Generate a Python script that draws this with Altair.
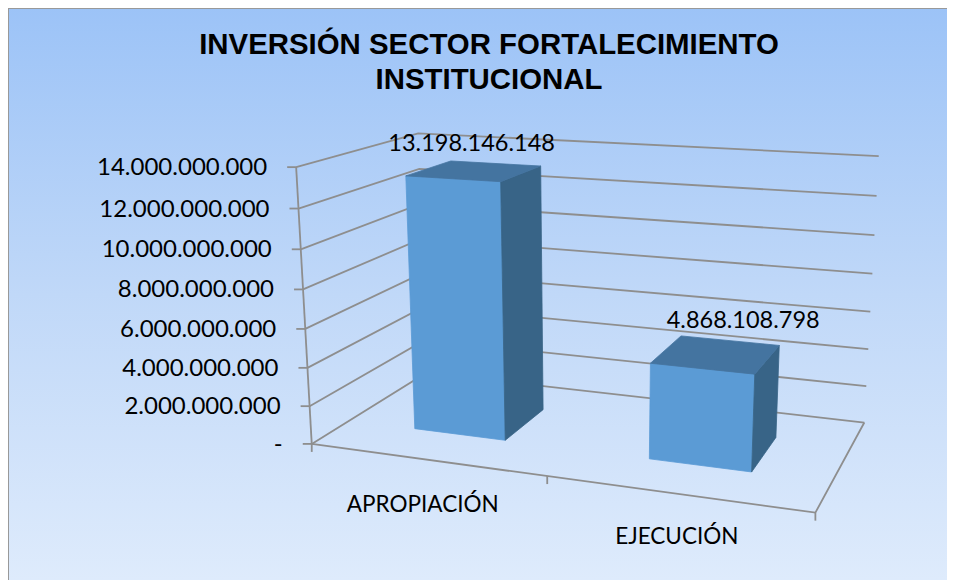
import altair as alt
import numpy as np
import pandas as pd

# ---- chart values -------------------------------------------------------
categories = ["APROPIACIÓN", "EJECUCIÓN"]
values = [13198146148, 4868108798]
value_labels = ["13.198.146.148", "4.868.108.798"]
tick_values = [0, 2e9, 4e9, 6e9, 8e9, 10e9, 12e9, 14e9]
tick_labels = ["-", "2.000.000.000", "4.000.000.000", "6.000.000.000",
               "8.000.000.000", "10.000.000.000", "12.000.000.000", "14.000.000.000"]
title_lines = ["INVERSIÓN SECTOR FORTALECIMIENTO", "INSTITUCIONAL"]

# ---- 3D camera, calibrated from the scene box (u=category, d=depth, v=value/max)
V_MAX = 14e9
_cal = [
    (0, 0, 0, 311, 444), (0, 0, 1, 297, 167), (1, 0, 0, 815, 513),
    (0, 1, 0, 428, 372), (0, 1, 1, 417, 133), (1, 1, 0, 864, 423), (1, 1, 1, 879, 156),
    (.15, .3, 0, 414, 430), (.35, .3, 0, 505, 440), (.35, .7, 0, 542, 410),
    (.15, .3, .943, 406, 176), (.35, .3, .943, 501, 182), (.15, .7, .943, 451, 161), (.35, .7, .943, 540, 166),
    (.65, .3, 0, 650, 458), (.85, .3, 0, 752, 471), (.85, .7, 0, 776, 438),
    (.65, .3, .348, 651, 363), (.85, .3, .348, 755, 373), (.65, .7, .348, 681, 336), (.85, .7, .348, 779, 346),
]
_A, _b = [], []
for u, d, v, x, y in _cal:
    _A.append([u, d, v, 1, 0, 0, 0, 0, -x * u, -x * d, -x * v]); _b.append(x)
    _A.append([0, 0, 0, 0, u, d, v, 1, -y * u, -y * d, -y * v]); _b.append(y)
_m = np.linalg.lstsq(np.array(_A, float), np.array(_b, float), rcond=None)[0]


def project(u, d, value):
    v = value / V_MAX
    w = _m[8] * u + _m[9] * d + _m[10] * v + 1
    return ((_m[0] * u + _m[1] * d + _m[2] * v + _m[3]) / w,
            (_m[4] * u + _m[5] * d + _m[6] * v + _m[7]) / w)


# ---- scene tables -------------------------------------------------------
lines, faces = [], []


def add_line(name, pts):
    for i, (x, y) in enumerate(pts):
        lines.append({"id": name, "i": i, "x": x, "y": y})


for tv in tick_values:
    add_line(f"grid{tv}", [project(0, 0, tv), project(0, 1, tv), project(1, 1, tv)])
    x0, y0 = project(0, 0, tv)
    add_line(f"tick{tv}", [(x0 - 9, y0), (x0, y0)])
add_line("axis", [project(0, 0, 0), project(0, 0, V_MAX)])
add_line("floor", [project(0, 0, 0), project(1, 0, 0), project(1, 1, 0)])
for u in (0, .5, 1):
    x0, y0 = project(u, 0, 0)
    add_line(f"xtick{u}", [(x0, y0), (x0, y0 + 8)])

N = len(categories)
BAR_U = .2 * 2 / N   # bar width on the category axis
D0, D1 = .3, .7      # bar depth span


def add_face(kind, bar, pts):
    for i, (x, y) in enumerate(pts):
        faces.append({"face": f"{kind}{bar}", "kind": kind, "i": i, "x": x, "y": y})


bar_tops = []
for b, val in enumerate(values):
    uc = (b + .5) / N
    u0, u1 = uc - BAR_U / 2, uc + BAR_U / 2
    add_face("front", b, [project(u0, D0, 0), project(u1, D0, 0), project(u1, D0, val), project(u0, D0, val), project(u0, D0, 0)])
    add_face("side", b, [project(u1, D0, 0), project(u1, D1, 0), project(u1, D1, val), project(u1, D0, val), project(u1, D0, 0)])
    add_face("top", b, [project(u0, D0, val), project(u1, D0, val), project(u1, D1, val), project(u0, D1, val), project(u0, D0, val)])
    bar_tops.append(project(uc, .5, val))

ticks_df = pd.DataFrame([
    {"x": project(0, 0, tv)[0] - 29, "y": project(0, 0, tv)[1] + 1, "t": lb}
    for tv, lb in zip(tick_values, tick_labels)
])
cat_off = [(-3, 46), (0, 43)]
cat_df = pd.DataFrame([
    {"x": project((i + .5) / N, 0, 0)[0] + cat_off[i][0], "y": project((i + .5) / N, 0, 0)[1] + cat_off[i][1], "t": c}
    for i, c in enumerate(categories)
])
lab_off = [(-3, -27), (27, -33)]
val_df = pd.DataFrame([
    {"x": bar_tops[i][0] + lab_off[i][0], "y": bar_tops[i][1] + lab_off[i][1], "t": t}
    for i, t in enumerate(value_labels)
])

# ---- scales: scene coordinates equal page coordinates ----------------------
W, H = 939, 572
X = alt.X("x:Q", axis=None, scale=alt.Scale(domain=[8, 8 + W], range=[0, W], nice=False, zero=False))
Y = alt.Y("y:Q", axis=None, scale=alt.Scale(domain=[8, 8 + H], range=[0, H], nice=False, zero=False))
X2 = alt.X2("x2:Q")
Y2 = alt.Y2("y2:Q")

GRID = "#8E8E8E"
gradient = alt.LinearGradient(
    gradient="linear", x1=0, y1=0, x2=0, y2=1,
    stops=[alt.GradientStop(offset=0, color="#9CC3F7"),
           alt.GradientStop(offset=.5, color="#C0D8F8"),
           alt.GradientStop(offset=1, color="#DEEBFC")])

bg = alt.Chart(pd.DataFrame([{"x": 8, "x2": 8 + W, "y": 8, "y2": 8 + H}])).mark_rect(
    color=gradient).encode(x=X, x2=X2, y=Y, y2=Y2)
border = alt.Chart(pd.DataFrame([
    {"x": 8, "y": 8 + H, "i": 0}, {"x": 8, "y": 8, "i": 1}, {"x": 8 + W, "y": 8, "i": 2}
])).mark_line(color="#999999", strokeWidth=2).encode(x=X, y=Y, order="i:Q")

grid = alt.Chart(pd.DataFrame(lines)).mark_line(color=GRID, strokeWidth=1.8).encode(
    x=X, y=Y, detail="id:N", order="i:Q")


def face_layer(kind, colour):
    d = pd.DataFrame(faces)
    d = d[d.kind == kind]
    return alt.Chart(d).mark_line(fill=colour, stroke=colour, strokeWidth=.8).encode(
        x=X, y=Y, detail="face:N", order="i:Q")


def text_layer(df, align, size):
    return alt.Chart(df).mark_text(font="Lato", fontSize=size, color="#000000", align=align,
                                   baseline="middle").encode(x=X, y=Y, text="t:N")


chart = alt.layer(
    bg, border, grid,
    face_layer("front", "#5B9BD5"),
    face_layer("side", "#386487"),
    face_layer("top", "#4474A0"),
    text_layer(ticks_df, "right", 24),
    text_layer(cat_df, "center", 22.5),
    text_layer(val_df, "center", 23.5),
).properties(
    width=W, height=H,
    padding=0,
    autosize=alt.AutoSizeParams(type="none"),
    background="transparent",
    title=alt.TitleParams(text=title_lines, font="Liberation Sans", fontSize=29.4, fontWeight="bold",
                          color="#000000", anchor="start", align="center", frame="group",
                          dx=481, dy=95, lineHeight=35),
).configure_view(stroke=None)

chart.save("out.html", embed_options={"renderer": "svg", "actions": False})
